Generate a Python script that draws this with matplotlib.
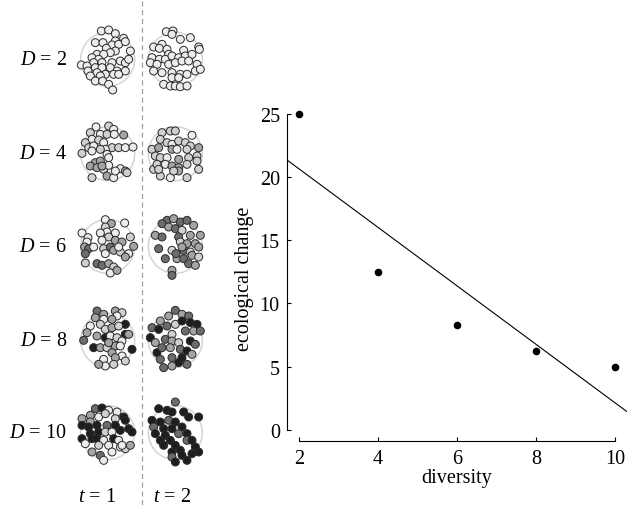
import numpy as np
import matplotlib.pyplot as plt
from matplotlib.patches import Circle

plt.rcParams['font.family'] = ['Liberation Serif', 'DejaVu Serif']
plt.rcParams['mathtext.fontset'] = 'custom'
plt.rcParams['mathtext.it'] = 'Liberation Serif:italic'
plt.rcParams['mathtext.rm'] = 'Liberation Serif'

# ============================================================
# DATA
# ============================================================

diversity = [2, 4, 6, 8, 10]
eco_change = [25.0, 12.5, 8.3, 6.2, 5.0]
yticks = [0, 5, 10, 15, 20, 25]

row_labels = ['2', '4', '6', '8', '10']
time_labels = ['1', '2']

# species shades (0 = palest ... 4 = black)
SHADES = ['#ececec', '#d0d0d0', '#a4a4a4', '#6c6c6c', '#1e1e1e']

# dots: (x, y, shade), in 1/3-pixel units inside each row box
D2_T1 = [(88, 30, 0), (110, 27, 0), (130, 38, 0), (155, 52, 0), (70, 65, 0), (93, 65, 0),
         (130, 60, 0), (120, 72, 0), (140, 70, 0), (160, 62, 0), (175, 90, 0), (103, 82, 0),
         (130, 90, 0), (115, 95, 0), (75, 100, 0), (95, 100, 0), (60, 110, 0), (80, 115, 0),
         (65, 125, 0), (90, 125, 0), (120, 125, 0), (145, 120, 0), (160, 125, 0), (170, 115, 0),
         (28, 132, 0), (45, 135, 0), (70, 140, 0), (90, 140, 0), (115, 140, 0), (135, 150, 0),
         (160, 150, 0), (48, 150, 0), (75, 155, 0), (100, 160, 0), (125, 160, 0), (140, 160, 0),
         (55, 165, 0), (85, 165, 0), (70, 180, 0), (92, 180, 0), (110, 190, 0), (122, 207, 0)]
D2_T2 = [(283, 32, 0), (303, 30, 0), (300, 40, 0), (325, 55, 0), (355, 50, 0), (245, 78, 0),
         (270, 70, 0), (262, 82, 0), (285, 85, 0), (290, 100, 0), (335, 88, 0), (380, 78, 0),
         (382, 85, 0), (240, 110, 0), (262, 115, 0), (280, 115, 0), (300, 105, 0), (320, 110, 0),
         (340, 105, 0), (360, 100, 0), (235, 125, 0), (255, 130, 0), (290, 130, 0), (310, 125, 0),
         (330, 120, 0), (350, 120, 0), (375, 130, 0), (245, 150, 0), (270, 155, 0), (300, 155, 0),
         (325, 160, 0), (345, 160, 0), (370, 150, 0), (385, 145, 0), (300, 170, 0), (320, 170, 0),
         (275, 190, 0), (295, 195, 0), (310, 195, 0), (325, 197, 0), (345, 195, 0)]

D4_T1 = [(72, 33, 0), (110, 30, 1), (125, 40, 0), (55, 50, 1), (85, 55, 0), (105, 55, 1),
         (127, 55, 0), (155, 57, 2), (60, 70, 0), (80, 72, 1), (40, 80, 1), (50, 95, 1),
         (65, 90, 0), (95, 80, 0), (120, 95, 1), (100, 100, 0), (85, 100, 1), (140, 95, 1),
         (160, 95, 0), (183, 93, 0), (30, 112, 1), (60, 105, 0), (105, 115, 0), (70, 140, 2),
         (85, 135, 2), (55, 150, 2), (75, 155, 2), (95, 160, 1), (110, 148, 0), (145, 158, 0),
         (160, 165, 2), (165, 170, 1), (105, 180, 2), (125, 185, 0), (60, 185, 1), (130, 165, 0),
         (90, 150, 2), (110, 125, 0)]
D4_T2 = [(270, 50, 1), (295, 45, 1), (310, 45, 1), (360, 58, 0), (265, 70, 1), (285, 80, 1),
         (300, 85, 0), (320, 75, 1), (340, 80, 1), (355, 90, 1), (240, 100, 1), (260, 95, 2),
         (300, 100, 2), (315, 100, 0), (345, 100, 1), (380, 95, 2), (250, 120, 1), (265, 125, 1),
         (285, 125, 0), (320, 130, 2), (350, 125, 1), (375, 120, 1), (245, 160, 1), (255, 145, 1),
         (280, 145, 0), (300, 150, 2), (320, 155, 2), (345, 145, 1), (375, 135, 1), (265, 180, 1),
         (295, 185, 0), (320, 165, 2), (345, 185, 1), (380, 160, 1), (260, 160, 1), (305, 165, 1)]

D6_T1 = [(100, 38, 0), (118, 50, 2), (158, 48, 0), (100, 60, 1), (30, 78, 0), (48, 92, 0),
         (45, 105, 0), (105, 75, 0), (130, 78, 0), (85, 78, 0), (110, 90, 1), (90, 100, 0),
         (130, 100, 2), (150, 105, 2), (175, 90, 1), (185, 118, 2), (38, 120, 2), (50, 125, 3),
         (65, 120, 0), (95, 125, 1), (115, 120, 3), (125, 130, 2), (145, 135, 1), (170, 140, 0),
         (160, 150, 2), (40, 140, 3), (40, 168, 1), (75, 170, 3), (90, 175, 3), (110, 170, 2),
         (125, 180, 1), (115, 198, 0), (135, 190, 2), (100, 140, 0), (140, 120, 0)]
D6_T2 = [(285, 40, 3), (305, 35, 2), (325, 45, 3), (345, 40, 3), (365, 55, 2), (270, 50, 3),
         (290, 60, 2), (310, 65, 3), (330, 70, 1), (250, 85, 2), (270, 90, 3), (320, 90, 3),
         (355, 85, 2), (385, 85, 2), (260, 125, 3), (300, 130, 1), (325, 105, 1), (345, 110, 2),
         (370, 110, 2), (380, 120, 2), (335, 130, 3), (355, 135, 1), (315, 155, 2), (335, 155, 3),
         (360, 145, 2), (380, 150, 1), (280, 155, 3), (350, 170, 3), (370, 175, 2), (300, 190, 2),
         (300, 205, 3), (330, 120, 2), (312, 140, 3)]

D8_T1 = [(75, 30, 3), (95, 40, 2), (130, 30, 2), (150, 35, 1), (135, 45, 0), (70, 50, 2),
         (95, 55, 0), (120, 55, 2), (160, 70, 4), (55, 75, 0), (85, 70, 1), (100, 85, 1),
         (120, 80, 2), (140, 75, 1), (160, 100, 4), (170, 100, 2), (45, 95, 2), (35, 118, 3),
         (75, 105, 2), (100, 110, 4), (115, 105, 0), (135, 110, 1), (150, 120, 0), (65, 140, 4),
         (85, 140, 2), (105, 140, 1), (130, 135, 2), (145, 135, 0), (180, 145, 4), (120, 155, 2),
         (150, 165, 0), (95, 175, 0), (130, 170, 2), (160, 180, 1), (100, 195, 0), (125, 190, 1),
         (80, 190, 2), (110, 125, 2)]
D8_T2 = [(310, 28, 3), (330, 40, 2), (350, 45, 3), (290, 45, 2), (265, 60, 2), (285, 75, 3),
         (310, 70, 1), (330, 60, 4), (355, 65, 4), (375, 70, 4), (240, 80, 3), (260, 85, 4),
         (300, 100, 1), (340, 90, 3), (365, 90, 2), (385, 90, 3), (235, 110, 4), (250, 125, 2),
         (280, 115, 3), (300, 120, 2), (320, 125, 1), (355, 120, 4), (370, 130, 3), (255, 155, 4),
         (270, 140, 3), (295, 140, 2), (325, 145, 3), (345, 150, 4), (360, 160, 2), (265, 175, 3),
         (300, 170, 3), (320, 185, 4), (345, 190, 3), (300, 195, 2), (275, 200, 3), (330, 170, 4)]

D10_T1 = [(70, 50, 3), (90, 48, 4), (110, 55, 0), (135, 60, 0), (55, 70, 2), (80, 75, 0),
          (100, 65, 1), (30, 80, 2), (55, 90, 2), (130, 80, 1), (155, 75, 4), (160, 85, 4),
          (30, 100, 4), (50, 105, 4), (75, 100, 4), (105, 100, 3), (130, 100, 4), (170, 110, 4),
          (55, 125, 4), (80, 120, 4), (100, 120, 1), (120, 120, 0), (145, 115, 4), (180, 120, 4),
          (30, 140, 4), (60, 140, 4), (75, 140, 4), (95, 145, 0), (125, 140, 4), (140, 145, 0),
          (40, 155, 0), (80, 160, 1), (110, 160, 0), (145, 165, 0), (160, 170, 1), (175, 160, 2),
          (60, 180, 2), (85, 190, 3), (95, 205, 0), (120, 180, 0), (150, 160, 0)]
D10_T2 = [(310, 30, 3), (260, 50, 4), (285, 55, 4), (300, 60, 4), (335, 60, 4), (350, 75, 4),
          (380, 75, 4), (240, 85, 4), (265, 90, 4), (290, 85, 3), (310, 90, 4), (245, 105, 3),
          (275, 110, 4), (300, 110, 4), (330, 105, 4), (250, 125, 4), (280, 130, 4), (320, 125, 3),
          (345, 125, 4), (265, 145, 4), (295, 145, 4), (345, 145, 3), (360, 145, 4), (275, 160, 4),
          (310, 160, 4), (370, 165, 4), (300, 180, 4), (325, 175, 4), (360, 185, 4), (380, 180, 4),
          (300, 195, 3), (330, 190, 4), (345, 205, 4), (310, 210, 4)]

rows = [(D2_T1, D2_T2), (D4_T1, D4_T2), (D6_T1, D6_T2), (D8_T1, D8_T2), (D10_T1, D10_T2)]

# ============================================================
# LAYOUT (pixels)
# ============================================================

W, H = 627, 510
X0 = 72
ROW_TOP = [22, 117, 208, 302, 393]
RING_CY = [115, 113, 118, 118, 122]   # ring centre inside row box (1/3 px)
RING_CX = [107, 310]
SC = 1 / 3.0

fig = plt.figure(figsize=(W / 100, H / 100), dpi=100)

# ------------------------------------------------------------
# left: communities
# ------------------------------------------------------------
ax0 = fig.add_axes([0, 0, 1, 1])
ax0.set_xlim(0, W)
ax0.set_ylim(H, 0)
ax0.axis('off')

ax0.plot([141.7, 141.7], [2, H], ls=(0, (4, 3)), color='#a0a0a0', lw=0.9)

for r, (top, cy, pair) in enumerate(zip(ROW_TOP, RING_CY, rows)):
    for k, dots in enumerate(pair):
        ax0.add_patch(Circle((X0 + RING_CX[k] * SC, top + cy * SC), 27,
                             fill=False, ec='#d4d4d4', lw=1.1, zorder=1))
        xs = [X0 + d[0] * SC for d in dots]
        ys = [top + d[1] * SC for d in dots]
        cs = [SHADES[d[2]] for d in dots]
        ax0.scatter(xs, ys, s=33, c=cs, edgecolors='#2a2a2a', linewidths=0.7, zorder=2)
    ax0.text(67, top + cy * SC, r'$D$ = ' + row_labels[r], ha='right', va='center',
             fontsize=14.5)

for k, lab in enumerate(time_labels):
    ax0.text([97, 172][k], 498, r'$t$ = ' + lab, ha='center', va='center', fontsize=14.5)

# ------------------------------------------------------------
# right: diversity vs ecological change
# ------------------------------------------------------------
xlo, xhi = 1.69, 10.3
ylo, yhi = -0.87, 25.0
ax = fig.add_axes([286.7 / W, 1 - 441.7 / H, 340 / W, (441.7 - 115) / H])
ax.patch.set_alpha(0)

slope, icept = np.polyfit(diversity, eco_change, 1)
xs = np.array([xlo, xhi])
ax.plot(xs, icept + slope * xs, color='black', lw=0.8)
ax.scatter(diversity, eco_change, s=20, color='black', zorder=3, clip_on=False)

ax.set_xlim(xlo, xhi)
ax.set_ylim(ylo, yhi)
for s in ['top', 'right']:
    ax.spines[s].set_visible(False)
ax.spines['left'].set_bounds(0, 25)
ax.spines['bottom'].set_bounds(2, 10)
ax.spines['left'].set_linewidth(0.8)
ax.spines['bottom'].set_linewidth(0.8)
ax.set_xticks(diversity)
ax.set_yticks(yticks)
ax.tick_params(direction='in', length=3, width=0.8, labelsize=14.5)
ax.tick_params(axis='y', pad=5)
ax.tick_params(axis='x', pad=6)
ax.set_xlabel('diversity', fontsize=14.5, labelpad=0)
ax.set_ylabel('ecological change', fontsize=14.5, labelpad=4)

fig.savefig('out.png', dpi=100)
